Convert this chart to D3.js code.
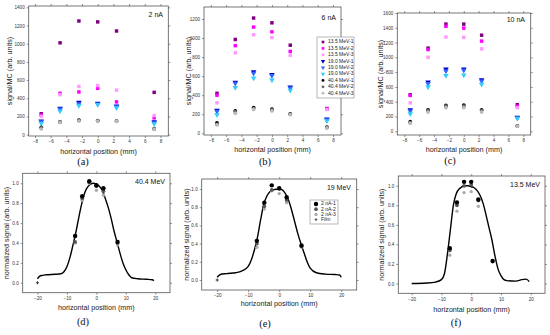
<!DOCTYPE html>
<html>
<head>
<meta charset="utf-8">
<script src="https://cdn.jsdelivr.net/npm/d3@7"></script>
<style>
  body { margin: 0; background: #fff; }
  svg { display: block; font-family: "Liberation Sans", Arial, sans-serif; }
  .tick text { font-size: 4.6px; fill: #333; }
  .axis path, .axis line { stroke: #666; stroke-width: 0.7; }
  .title { font-size: 7.2px; fill: #222; }
  .note { font-size: 7px; fill: #111; }
  .cap { font-family: "Liberation Serif", "Times New Roman", serif; font-size: 10.5px; fill: #111; }
  .leg { font-size: 5px; fill: #222; }
</style>
</head>
<body>
<div id="chart"></div>
<script>
// ---- data ----
const positions = [-7.2, -4.8, -2.4, 0, 2.4, 7.2];
const seriesNames = ["13.5 MeV-1", "13.5 MeV-2", "13.5 MeV-3",
                     "19.0 MeV-1", "19.0 MeV-2", "19.0 MeV-3",
                     "40.4 MeV-1", "40.4 MeV-2", "40.4 MeV-3"];
const seriesColors = ["#800080", "#ff00ff", "#ff99ff",
                      "#0000cc", "#3366ff", "#33ccff",
                      "#000000", "#666666", "#bbbbbb"];
const seriesShapes = ["square", "square", "square",
                      "triangle", "triangle", "triangle",
                      "circle", "circle", "circle"];

const signal2nA = [
  [230, 1010, 1250, 1240, 1140, 465],
  [215, 455, 470, 510, 360, 185],
  [200, 440, 530, 540, 490, 210],
  [150, 290, 355, 345, 315, 140],
  [140, 280, 340, 335, 305, 130],
  [125, 260, 320, 330, 295, 120],
  [80, 140, 160, 155, 150, 65],
  [75, 138, 155, 152, 148, 62],
  [62, 135, 150, 150, 145, 60]
];
const signal6nA = [
  [420, 985, 1210, 1160, 925, 260],
  [400, 920, 1115, 1065, 860, 255],
  [320, 845, 1035, 1005, 820, 250],
  [240, 535, 645, 615, 485, 150],
  [230, 525, 630, 605, 475, 140],
  [195, 480, 580, 560, 450, 130],
  [110, 235, 270, 255, 205, 65],
  [95, 225, 260, 245, 200, 60],
  [88, 210, 250, 235, 195, 55]
];
const signal10nA = [
  [495, 1125, 1450, 1450, 1300, 360],
  [485, 1105, 1420, 1395, 1220, 340],
  [385, 1000, 1275, 1270, 1115, 320],
  [290, 665, 840, 840, 695, 190],
  [275, 645, 815, 825, 680, 180],
  [235, 600, 755, 760, 635, 175],
  [130, 290, 350, 355, 290, 75],
  [115, 280, 340, 340, 280, 72],
  [110, 260, 320, 320, 260, 70]
];

const runNames = ["2 nA-1", "2 nA-2", "2 nA-3", "Film"];
const runColors = ["#000000", "#555555", "#aaaaaa", "#333333"];

const norm404 = [
  [0.47, 0.87, 1.02, 0.98, 0.95, 0.41],
  [0.41, 0.85, 1.01, 0.97, 0.92, 0.40],
  [0.40, 0.83, 1.00, 0.93, 0.88, 0.38]
];
const norm19 = [
  [0.43, 0.85, 1.04, 1.01, 0.91, 0.38],
  [0.40, 0.81, 0.99, 1.00, 0.88, 0.37],
  [0.36, 0.78, 0.98, 0.95, 0.85, 0.36]
];
const norm135 = [
  [0.36, 0.83, 1.04, 1.04, 0.86, 0.23],
  [0.34, 0.80, 1.00, 1.01, 0.85, 0.23],
  [0.29, 0.74, 0.93, 0.94, 0.79, 0.22]
];

const film404X = [-20, -19, -17, -14, -12, -11, -10, -9, -8, -7, -6, -5, -4, -3, -2, -1, 0, 1, 2, 3, 4, 5, 6, 7, 8, 9, 10, 11, 12, 14, 17, 19, 19.5];
const film404Y = [0.04, 0.07, 0.08, 0.085, 0.09, 0.11, 0.16, 0.25, 0.37, 0.5, 0.65, 0.79, 0.9, 0.96, 0.99, 1.0, 0.99, 0.97, 0.93, 0.85, 0.76, 0.65, 0.52, 0.41, 0.3, 0.2, 0.13, 0.08, 0.05, 0.04, 0.035, 0.03, 0.02];
const film19X = [-20, -19, -17, -14, -12, -10, -9, -8, -7, -6, -5, -4, -2, 0, 1, 2, 3, 4, 5, 6, 7, 8, 9, 10, 12, 15, 18, 19.5, 20];
const film19Y = [0.03, 0.06, 0.07, 0.08, 0.1, 0.15, 0.22, 0.33, 0.47, 0.66, 0.83, 0.92, 0.99, 1.0, 0.99, 0.95, 0.88, 0.77, 0.64, 0.51, 0.4, 0.3, 0.2, 0.13, 0.08, 0.065, 0.06, 0.055, 0.03];
const film135X = [-20, -15, -12, -10, -9, -8, -7, -6, -5, -4, -2, -1, 0, 1, 2, 3, 4, 5, 6, 7, 8, 9, 10, 11, 12, 15, 17, 18.5, 19.5];
const film135Y = [0.0, 0.005, 0.015, 0.04, 0.1, 0.3, 0.55, 0.8, 0.92, 0.97, 1.0, 1.0, 0.99, 0.98, 0.95, 0.9, 0.82, 0.7, 0.57, 0.44, 0.28, 0.15, 0.08, 0.04, 0.03, 0.025, 0.04, 0.045, 0.02];
const filmEndsX = [[-20], [-20], []];
const filmEndsY = [[0.0], [0.0], []];

const xTicksTop = [-8, -6, -4, -2, 0, 2, 4, 6, 8];
const xTicksBottom = [-20, -10, 0, 10, 20];
const yTicksNorm = [0, 0.2, 0.4, 0.6, 0.8, 1.0];

// ---- drawing ----
const svg = d3.select("#chart").append("svg")
  .attr("width", 550)
  .attr("height", 335);

function frameAxes(p, xTicks, yTicks, yFmt) {
  const g = svg.append("g");
  const x = d3.scaleLinear().domain(p.xd).range([p.l, p.r]);
  const y = d3.scaleLinear().domain(p.yd).range([p.b, p.t]);

  g.append("g").attr("class", "axis")
    .attr("transform", `translate(0,${p.b})`)
    .call(d3.axisBottom(x).tickValues(xTicks).tickSize(2).tickPadding(2).tickFormat(d3.format("d")))
    .call(s => s.select(".domain").remove());
  g.append("g").attr("class", "axis")
    .attr("transform", `translate(0,${p.t})`)
    .call(d3.axisTop(x).tickValues(xTicks).tickSize(2).tickFormat(""))
    .call(s => s.select(".domain").remove());
  g.append("g").attr("class", "axis")
    .attr("transform", `translate(${p.l},0)`)
    .call(d3.axisLeft(y).tickValues(yTicks).tickSize(2).tickPadding(2).tickFormat(yFmt))
    .call(s => s.select(".domain").remove());
  g.append("g").attr("class", "axis")
    .attr("transform", `translate(${p.r},0)`)
    .call(d3.axisRight(y).tickValues(yTicks).tickSize(2).tickFormat(""))
    .call(s => s.select(".domain").remove());

  g.append("rect")
    .attr("x", p.l).attr("y", p.t)
    .attr("width", p.r - p.l).attr("height", p.b - p.t)
    .attr("fill", "none").attr("stroke", "#555").attr("stroke-width", 0.8);

  g.append("text").attr("class", "title")
    .attr("x", (p.l + p.r) / 2).attr("y", p.b + p.xt)
    .attr("text-anchor", "middle")
    .style("fill", "#222")
    .text("horizontal position (mm)");

  g.append("text").attr("class", "title")
    .attr("transform", `translate(${p.yt},${(p.t + p.b) / 2}) rotate(-90)`)
    .attr("text-anchor", "middle")
    .attr("dominant-baseline", "middle")
    .style("fill", "#222")
    .text(p.ytitle);

  g.append("text").attr("class", "note")
    .attr("x", p.nx).attr("y", p.ny)
    .attr("text-anchor", "end")
    .text(p.note);

  svg.append("text").attr("class", "cap")
    .attr("x", p.cx).attr("y", p.cy)
    .attr("text-anchor", "middle")
    .attr("dominant-baseline", "middle")
    .text(p.cap);

  return { g, x, y };
}

function symbolFor(shape, area) {
  if (shape === "square") return d3.symbol(d3.symbolSquare, area)();
  if (shape === "triangle") return d3.symbol(d3.symbolTriangle, area * 1.1)();
  return d3.symbol(d3.symbolCircle, area * 0.9)();
}

function scatterPanel(p, values) {
  const { g, x, y } = frameAxes(p, xTicksTop, d3.range(0, p.ymax + 1, 200), d3.format("d"));
  values.forEach((row, i) => {
    g.selectAll(null).data(row).enter().append("path")
      .attr("d", symbolFor(seriesShapes[i], 12))
      .attr("transform", (d, j) => `translate(${x(positions[j])},${y(d)})` + (seriesShapes[i] === "triangle" ? " rotate(180)" : ""))
      .attr("fill", seriesColors[i]);
  });
  return g;
}

function profilePanel(p, norm, fx, fy, k) {
  const { g, x, y } = frameAxes(p, xTicksBottom, yTicksNorm, d3.format(".1f"));
  const line = d3.line()
    .x(d => x(d[0])).y(d => y(d[1]))
    .curve(d3.curveMonotoneX);
  g.append("path")
    .datum(fx.map((v, i) => [v, fy[i]]))
    .attr("d", line)
    .attr("fill", "none")
    .attr("stroke", "#000")
    .attr("stroke-width", 1.4);
  const sizes = [7, 5, 4];
  for (let i = norm.length - 1; i >= 0; i--) {
    g.selectAll(null).data(norm[i]).enter().append("path")
      .attr("d", d3.symbol(d3.symbolCircle, sizes[i] * 2.2)())
      .attr("transform", (d, j) => `translate(${x(positions[j])},${y(d)})`)
      .attr("fill", runColors[i]);
  }
  g.selectAll(null).data(filmEndsX[k]).enter().append("path")
    .attr("d", d3.symbol(d3.symbolCross, 5)())
    .attr("transform", (d, j) => `translate(${x(d)},${y(filmEndsY[k][j])})`)
    .attr("fill", runColors[3]);
  return g;
}

const topPanels = [
  { l: 28.7, r: 168.3, t: 6, b: 136, xd: [-8.8, 9.0], yd: [-15, 1415], ymax: 1400,
    xt: 18, yt: 10, ytitle: "signal/MC (arb. units)", note: "2 nA", nx: 163, ny: 17, cap: "(a)", cx: 83, cy: 163 },
  { l: 204, r: 341, t: 7, b: 135, xd: [-8.9, 9.05], yd: [-18, 1326], ymax: 1200,
    xt: 17, yt: 189, ytitle: "signal/MC (arb. units)", note: "6 nA", nx: 336, ny: 20, cap: "(b)", cx: 265, cy: 163 },
  { l: 397.3, r: 530.7, t: 13, b: 135, xd: [-8.94, 9.0], yd: [-50, 1600], ymax: 1600,
    xt: 16.5, yt: 381, ytitle: "signal/MC (arb. units)", note: "10 nA", nx: 525, ny: 22, cap: "(c)", cx: 450, cy: 162 }
];
const bottomPanels = [
  { l: 22.7, r: 170, t: 173.3, b: 292.7, xd: [-25, 25], yd: [-0.1, 1.1],
    xt: 17.3, yt: 7, ytitle: "normalized signal (arb. units)", note: "40.4 MeV", nx: 165, ny: 184, cap: "(d)", cx: 83, cy: 323 },
  { l: 201.7, r: 356.7, t: 179, b: 290, xd: [-25, 25], yd: [-0.11, 1.11],
    xt: 15.5, yt: 187, ytitle: "normalized signal (arb. units)", note: "19 MeV", nx: 351, ny: 190, cap: "(e)", cx: 265, cy: 325 },
  { l: 398.3, r: 545, t: 176, b: 293.3, xd: [-24.5, 24.8], yd: [-0.1, 1.1],
    xt: 18.5, yt: 382, ytitle: "normalized signal (arb. units)", note: "13.5 MeV", nx: 540, ny: 187, cap: "(f)", cx: 456, cy: 324 }
];

scatterPanel(topPanels[0], signal2nA);
scatterPanel(topPanels[1], signal6nA);
scatterPanel(topPanels[2], signal10nA);
profilePanel(bottomPanels[0], norm404, film404X, film404Y, 0);
profilePanel(bottomPanels[1], norm19, film19X, film19Y, 1);
profilePanel(bottomPanels[2], norm135, film135X, film135Y, 2);

// legend in (b)
const legB = svg.append("g").attr("transform", "translate(317,37)");
legB.append("rect").attr("width", 37).attr("height", 61)
  .attr("fill", "#fff").attr("stroke", "#888").attr("stroke-width", 0.6);
seriesNames.forEach((name, i) => {
  const row = legB.append("g").attr("transform", `translate(0,${5 + i * 6.4})`);
  row.append("path")
    .attr("d", symbolFor(seriesShapes[i], 7))
    .attr("transform", "translate(6,0)" + (seriesShapes[i] === "triangle" ? " rotate(180)" : ""))
    .attr("fill", seriesColors[i]);
  row.append("text").attr("class", "leg")
    .attr("x", 11).attr("y", 0)
    .attr("dominant-baseline", "middle")
    .text(name);
});

// legend in (e)
const legE = svg.append("g").attr("transform", "translate(310,200)");
legE.append("rect").attr("width", 28).attr("height", 24)
  .attr("fill", "#fff").attr("stroke", "#888").attr("stroke-width", 0.6);
runNames.forEach((name, i) => {
  const row = legE.append("g").attr("transform", `translate(0,${4 + i * 5.2})`);
  row.append("path")
    .attr("d", i < 3 ? d3.symbol(d3.symbolCircle, [7, 5, 4][i] * 2.2)() : d3.symbol(d3.symbolCross, 4)())
    .attr("transform", "translate(6,0)")
    .attr("fill", runColors[i]);
  row.append("text").attr("class", "leg")
    .attr("x", 11).attr("y", 0)
    .attr("dominant-baseline", "middle")
    .text(name);
});
</script>
</body>
</html>
